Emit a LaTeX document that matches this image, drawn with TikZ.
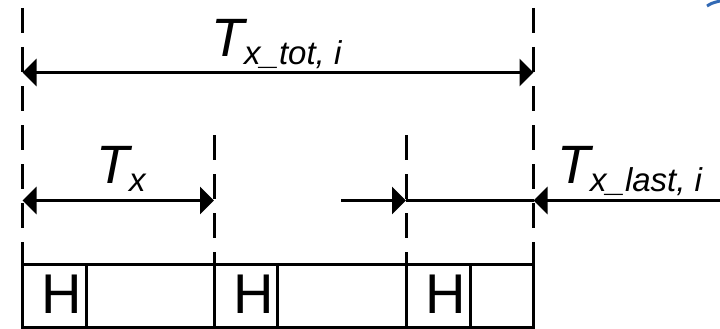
\documentclass[tikz,border=0pt]{standalone}
\usepackage{fontspec}
\setmainfont{Liberation Sans}
\usetikzlibrary{arrows.meta}
\tikzset{
  >={Triangle[length=14pt,width=27pt]},
  guide/.style={line width=3pt, dash pattern=on 25pt off 14pt},
  dimline/.style={line width=3.5pt},
  boxline/.style={line width=3pt},
  bigT/.style={anchor=base west, inner sep=0pt, font=\fontsize{54}{54}\selectfont\itshape},
  hlabel/.style={anchor=base west, inner sep=0pt, font=\fontsize{56}{56}\selectfont},
}
\newcommand{\subtxt}[1]{\raisebox{-8pt}{\fontsize{33}{33}\selectfont\itshape #1}}
\begin{document}
\begin{tikzpicture}[x=1pt,y=-1pt]
\useasboundingbox (0,0) rectangle (720,329);
% key positions
\coordinate (gA) at (22.5,8);
\coordinate (gD) at (533.5,8);
\coordinate (gB) at (214,135);
\coordinate (gC) at (406,135);
\coordinate (bA) at (22.5,264.5);
\coordinate (bB) at (214,264.5);
\coordinate (bC) at (406,264.5);
\coordinate (bD) at (533.5,264.5);
% frame boxes
\draw[boxline] (22.5,327.5) rectangle (533.5,264.5);
\foreach \x in {86.5,214,277,406,470}
  \draw[boxline] (\x,264.5) -- (\x,327.5);
\node[hlabel] (h1) at (41.5,313) {H};
\node[hlabel] (h2) at (233,313) {H};
\node[hlabel] (h3) at (425,313) {H};
% guide lines
\draw[guide] (gA) -- (bA);
\draw[guide] (gD) -- (bD);
\draw[guide] (gB) -- (bB);
\draw[guide] (gC) -- (bC);
% dimension arrows
\coordinate (totL) at (22.5,72.5);
\coordinate (totR) at (533.5,72.5);
\draw[dimline,<->] (totL) -- (totR);
\coordinate (txL) at (22.5,200.5);
\coordinate (txR) at (214,200.5);
\draw[dimline,<->] (txL) -- (txR);
\coordinate (lastA) at (341,200.5);
\coordinate (lastB) at (406,200.5);
\coordinate (lastC) at (533.5,200.5);
\coordinate (lastD) at (720,200.5);
\draw[dimline,->] (lastA) -- (lastB);
\draw[dimline] (lastB) -- (lastC);
\draw[dimline,->] (lastD) -- (lastC);
% labels
\node[bigT] (ltot) at (211,57) {T\subtxt{x\_tot, i}};
\node[bigT] (ltx) at (96,183) {T\subtxt{x}};
\node[bigT] (llast) at (557,183) {T\subtxt{x\_last, i}};
% corner fragment
\draw[line width=3pt, color={rgb,255:red,50;green,105;blue,180}] (707,6) .. controls (712,3) .. (720,1);
\end{tikzpicture}
\end{document}
